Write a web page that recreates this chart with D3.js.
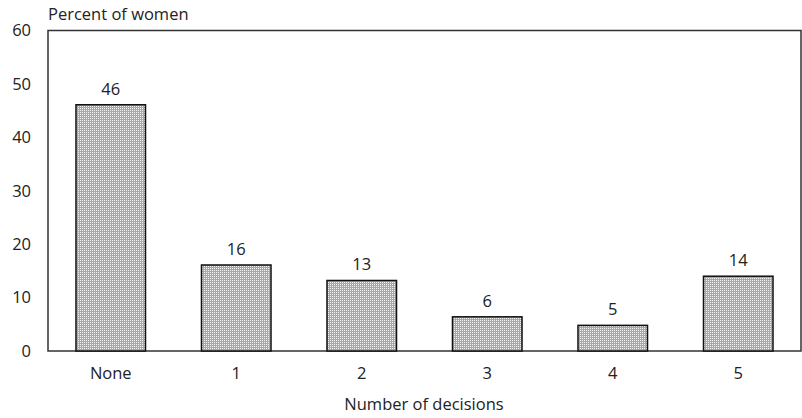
<!DOCTYPE html>
<html><head><meta charset="utf-8">
<script src="https://cdn.jsdelivr.net/npm/d3@7"></script>
<style>body{margin:0;background:#fff}text{font-family:"Open Sans",sans-serif;fill:#222}</style>
</head><body><svg id="c" width="802" height="418"></svg>
<script>
const categories = ["None","1","2","3","4","5"];
const values = [46.1, 16.1, 13.2, 6.4, 4.8, 14.0];
const valueLabels = ["46","16","13","6","5","14"];
const yTicks = [0,10,20,30,40,50,60];

const FONT = "'Open Sans',sans-serif";
const FS = 16.5;
const svg = d3.select("#c");
const m = {l:48, t:30.5, r:801, b:351};
const x = d3.scaleBand().domain(categories).range([m.l, m.r]).paddingInner(0.446).paddingOuter(0.223);
const y = d3.scaleLinear().domain([0,60]).range([m.b, m.t]);

const defs = svg.append("defs");
const pat = defs.append("pattern").attr("id","chk").attr("width",2).attr("height",2).attr("patternUnits","userSpaceOnUse");
pat.append("rect").attr("width",2).attr("height",2).attr("fill","#a8a8a8");
pat.append("rect").attr("width",1).attr("height",1).attr("fill","#f4f4f4");

// frame
svg.append("rect").attr("x",m.l).attr("y",y(60)).attr("width",m.r-m.l).attr("height",y(0)-y(60))
  .attr("fill","none").attr("stroke","#333").attr("stroke-width",1.5);

// bars
svg.selectAll("rect.bar").data(values).join("rect").attr("class","bar")
  .attr("x",(d,i)=>x(categories[i])).attr("width",x.bandwidth())
  .attr("y",d=>y(d)).attr("height",d=>y(0)-y(d))
  .attr("fill","url(#chk)").attr("stroke","#111").attr("stroke-width",1.5);

svg.selectAll("text.vl").data(values).join("text").attr("class","vl")
  .attr("x",(d,i)=>x(categories[i])+x.bandwidth()/2).attr("y",d=>y(d)-10)
  .attr("text-anchor","middle").attr("font-size",FS).text((d,i)=>valueLabels[i]);

// y axis labels
const ya = svg.append("g").attr("transform",`translate(${m.l},0)`)
  .call(d3.axisLeft(y).tickValues(yTicks).tickSize(0).tickPadding(17));
ya.select(".domain").remove();
ya.selectAll("text").attr("font-size",FS).attr("font-family",FONT).attr("fill","#222");

// x axis labels
const xa = svg.append("g").attr("transform",`translate(0,${m.b})`)
  .call(d3.axisBottom(x).tickSize(0).tickPadding(16));
xa.select(".domain").remove();
xa.selectAll("text").attr("font-size",FS).attr("font-family",FONT).attr("fill","#222");

svg.append("text").attr("x",48).attr("y",20).attr("font-size",FS).text("Percent of women");
svg.append("text").attr("x",424).attr("y",410).attr("text-anchor","middle").attr("font-size",FS).text("Number of decisions");
</script></body></html>
